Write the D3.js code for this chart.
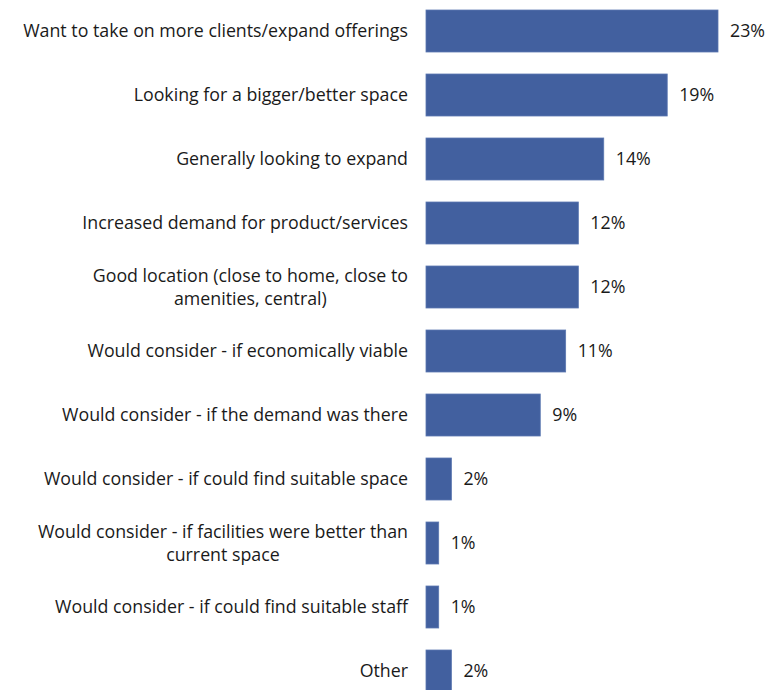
<!DOCTYPE html>
<html>
<head>
<meta charset="utf-8">
<script src="https://cdn.jsdelivr.net/npm/d3@7"></script>
<style>
  html, body { margin: 0; padding: 0; background: #fff; }
  svg { display: block; }
  text { font-family: "Open Sans", "Noto Sans", sans-serif; fill: #1a1a1a; }
</style>
</head>
<body>
<svg id="chart" width="775" height="690"></svg>
<script>
// Reasons for expanding, share of respondents (%)
const categories = [
  ["Want to take on more clients/expand offerings"],
  ["Looking for a bigger/better space"],
  ["Generally looking to expand"],
  ["Increased demand for product/services"],
  ["Good location (close to home, close to", "amenities, central)"],
  ["Would consider - if economically viable"],
  ["Would consider - if the demand was there"],
  ["Would consider - if could find suitable space"],
  ["Would consider - if facilities were better than", "current space"],
  ["Would consider - if could find suitable staff"],
  ["Other"]
];
const values = [23, 19, 14, 12, 12, 11, 9, 2, 1, 1, 2];
const valueLabels = values.map(v => v + "%");

const svg = d3.select("#chart");
const barLeft = 426;
const fontSize = 17.8;

const x = d3.scaleLinear().domain([0, 23]).range([barLeft, 718]);
const y = d3.scaleBand()
  .domain(d3.range(categories.length))
  .range([-1, 703])
  .paddingInner(0.344)
  .paddingOuter(0.172);

const rows = svg.selectAll("g.row")
  .data(values)
  .join("g")
  .attr("class", "row");

rows.append("rect")
  .attr("x", x(0))
  .attr("y", (d, i) => y(i))
  .attr("width", d => x(d) - x(0))
  .attr("height", y.bandwidth())
  .attr("fill", "#42609f")
  .attr("stroke", "#5b77b0")
  .attr("stroke-width", 0.8);

rows.append("text")
  .attr("x", d => x(d) + 12)
  .attr("y", (d, i) => y(i) + y.bandwidth() / 2)
  .attr("dy", "0.35em")
  .attr("font-size", fontSize)
  .text((d, i) => valueLabels[i]);

// Category labels: right-aligned block, multi-line entries centred within the block
const lineH = 23;
rows.each(function (d, i) {
  const lines = categories[i];
  const g = d3.select(this).append("g");
  const cy = y(i) + y.bandwidth() / 2;
  const texts = g.selectAll("text")
    .data(lines)
    .join("text")
    .attr("font-size", fontSize)
    .attr("text-anchor", "middle")
    .attr("y", (t, j) => cy + (j - (lines.length - 1) / 2) * lineH)
    .attr("dy", "0.35em")
    .text(t => t);
  let maxW = 0;
  texts.each(function () { maxW = Math.max(maxW, this.getComputedTextLength()); });
  texts.attr("x", 408 - maxW / 2);
});
</script>
</body>
</html>
